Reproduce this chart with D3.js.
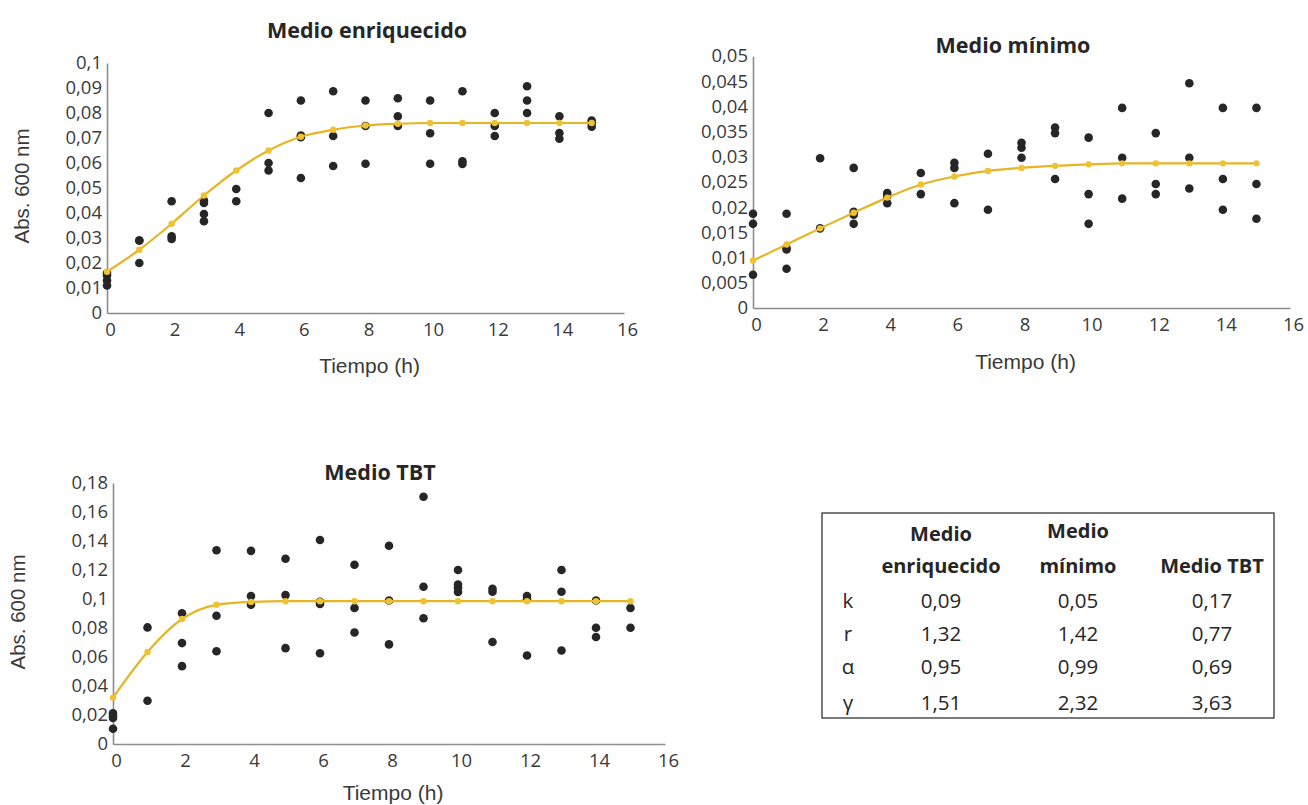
<!DOCTYPE html>
<html>
<head>
<meta charset="utf-8">
<script src="https://cdn.jsdelivr.net/npm/d3@7"></script>
<style>
  body { margin: 0; background: #fff; }
  svg { display: block; }
</style>
</head>
<body>
<div id="chart"></div>
<script>
// ---- data ----
var hours = [0, 1, 2, 3, 4, 5, 6, 7, 8, 9, 10, 11, 12, 13, 14, 15];

// replicates per hour
var enrObs = [
  [0.016, 0.015, 0.013, 0.011],
  [0.029, 0.029, 0.020],
  [0.0447, 0.0307, 0.0296],
  [0.045, 0.044, 0.0396, 0.0367],
  [0.0496, 0.0447],
  [0.080, 0.060, 0.057],
  [0.085, 0.071, 0.0703, 0.054],
  [0.0887, 0.0708, 0.0588],
  [0.085, 0.0748, 0.0597],
  [0.0859, 0.0787, 0.0748],
  [0.085, 0.0719, 0.0597],
  [0.0887, 0.0607, 0.0596],
  [0.080, 0.0748, 0.0708],
  [0.0907, 0.085, 0.080],
  [0.0787, 0.072, 0.0697],
  [0.077, 0.0759, 0.0745]
];
var enrFit = [0.0165, 0.0253, 0.0357, 0.047, 0.057, 0.065, 0.0705, 0.0733, 0.075, 0.0757, 0.076, 0.076, 0.076, 0.076, 0.076, 0.076];

var minObs = [
  [0.0187, 0.0167, 0.0066],
  [0.0187, 0.0119, 0.0116, 0.0078],
  [0.0297, 0.0158],
  [0.0278, 0.0191, 0.0185, 0.0167],
  [0.0228, 0.0222, 0.0208],
  [0.0268, 0.0226],
  [0.0288, 0.0278, 0.0208],
  [0.0306, 0.0195],
  [0.0328, 0.0318, 0.0298],
  [0.0358, 0.0347, 0.0256],
  [0.0338, 0.0226, 0.0167],
  [0.0397, 0.0298, 0.0217],
  [0.0347, 0.0246, 0.0226],
  [0.0446, 0.0298, 0.0237],
  [0.0397, 0.0256, 0.0195],
  [0.0397, 0.0246, 0.0177]
];
var minFit = [0.0094, 0.0126, 0.0158, 0.0189, 0.0219, 0.0245, 0.0261, 0.0272, 0.0278, 0.0282, 0.0285, 0.0287, 0.0287, 0.0287, 0.0287, 0.0287];

var tbtObs = [
  [0.0211, 0.0195, 0.018, 0.0105],
  [0.0804, 0.0298],
  [0.0902, 0.0696, 0.0537],
  [0.1336, 0.0884, 0.064],
  [0.1332, 0.102, 0.096],
  [0.1278, 0.1027, 0.0661],
  [0.1407, 0.098, 0.0966, 0.0626],
  [0.1236, 0.0938, 0.0769],
  [0.1367, 0.099, 0.0687],
  [0.1705, 0.1085, 0.0867],
  [0.12, 0.11, 0.1078, 0.1048],
  [0.1071, 0.105, 0.0703],
  [0.102, 0.0996, 0.061],
  [0.12, 0.105, 0.0645],
  [0.099, 0.0802, 0.0738],
  [0.0938, 0.0802]
];
var tbtFit = [0.032, 0.0635, 0.0862, 0.096, 0.098, 0.0985, 0.0985, 0.0985, 0.0985, 0.0985, 0.0985, 0.0985, 0.0985, 0.0985, 0.0985, 0.0985];

var xTicks = [0, 2, 4, 6, 8, 10, 12, 14, 16];
var enrTicks = [0, 0.01, 0.02, 0.03, 0.04, 0.05, 0.06, 0.07, 0.08, 0.09, 0.1];
var minTicks = [0, 0.005, 0.01, 0.015, 0.02, 0.025, 0.03, 0.035, 0.04, 0.045, 0.05];
var tbtTicks = [0, 0.02, 0.04, 0.06, 0.08, 0.1, 0.12, 0.14, 0.16, 0.18];

// table
var tblCols = [["Medio", "enriquecido"], ["Medio", "mínimo"], ["Medio TBT"]];
var tblRows = ["k", "r", "α", "γ"];
var tblVals = [
  ["0,09", "0,05", "0,17"],
  ["1,32", "1,42", "0,77"],
  ["0,95", "0,99", "0,69"],
  ["1,51", "2,32", "3,63"]
];

var W = 1308, H = 805;
var SANS = '"Open Sans", Lato, sans-serif';
var ARIAL = '"Liberation Sans", Arial, sans-serif';
var svg = d3.select("#chart").append("svg").attr("width", W).attr("height", H);

var fmt = function(d) { return String(d).replace(".", ","); };

function drawPanel(o) {
  var x = d3.scaleLinear().domain([0, 16]).range([o.x0, o.x1]);
  var y = d3.scaleLinear().domain([0, o.ymax]).range([o.y0, o.y1]);
  var g = svg.append("g");

  var xa = g.append("g").attr("transform", "translate(0," + o.y0 + ")")
    .call(d3.axisBottom(x).tickValues(xTicks).tickSize(0).tickPadding(10).tickFormat(fmt));
  var ya = g.append("g").attr("transform", "translate(" + o.x0 + ",0)")
    .call(d3.axisLeft(y).tickValues(o.ticks).tickSize(0).tickPadding(5).tickFormat(fmt));
  [xa, ya].forEach(function(a) {
    a.select(".domain").attr("stroke", "#8c8c8c").attr("stroke-width", 1.6);
    a.selectAll(".tick text")
      .style("font-family", SANS).style("font-size", "18.5px").attr("fill", "#3a3a3a");
  });
  xa.selectAll(".tick text").attr("dx", 3);

  // observed replicates
  var pts = [];
  o.obs.forEach(function(arr, i) {
    arr.forEach(function(v) { pts.push([hours[i], v]); });
  });
  g.append("g").selectAll("circle").data(pts).enter().append("circle")
    .attr("cx", function(d) { return x(d[0]); })
    .attr("cy", function(d) { return y(d[1]); })
    .attr("r", 4.3)
    .attr("fill", "#262626");

  // fitted curve
  var line = d3.line().curve(d3.curveMonotoneX)
    .x(function(d, i) { return x(hours[i]); })
    .y(function(d) { return y(d); });
  g.append("path").datum(o.fit)
    .attr("d", line)
    .attr("fill", "none")
    .attr("stroke", "#e6b523")
    .attr("stroke-width", 2.2);
  g.append("g").selectAll("circle").data(o.fit).enter().append("circle")
    .attr("cx", function(d, i) { return x(hours[i]); })
    .attr("cy", function(d) { return y(d); })
    .attr("r", 3.2)
    .attr("fill", "#f0c232");

  g.append("text").attr("x", o.tx).attr("y", o.ty)
    .attr("text-anchor", "middle")
    .style("font-family", SANS).style("font-weight", "bold").style("font-size", "21.5px")
    .attr("fill", "#262626").text(o.title);
  g.append("text").attr("x", (o.x0 + o.x1) / 2 + 4).attr("y", o.y0 + o.tdy)
    .attr("text-anchor", "middle")
    .style("font-family", ARIAL).style("font-size", "21px").attr("fill", "#3a3a3a")
    .text("Tiempo (h)");
  if (o.ylab) {
    g.append("text")
      .attr("transform", "translate(" + o.ylx + "," + o.yly + ") rotate(-90)")
      .attr("text-anchor", "middle")
      .style("font-family", ARIAL).style("font-size", "20.5px").attr("fill", "#3a3a3a")
      .text("Abs. 600 nm");
  }
}

drawPanel({ x0: 107, x1: 624, y0: 313, y1: 63, ymax: 0.1, ticks: enrTicks,
  obs: enrObs, fit: enrFit, title: "Medio enriquecido", tx: 367, ty: 38,
  tdy: 60, ylab: true, ylx: 29, yly: 186 });
drawPanel({ x0: 753, x1: 1290, y0: 308, y1: 56, ymax: 0.05, ticks: minTicks,
  obs: minObs, fit: minFit, title: "Medio mínimo", tx: 1013, ty: 53,
  tdy: 61, ylab: false });
drawPanel({ x0: 113, x1: 665, y0: 744, y1: 483, ymax: 0.18, ticks: tbtTicks,
  obs: tbtObs, fit: tbtFit, title: "Medio TBT", tx: 380, ty: 480,
  tdy: 56, ylab: true, ylx: 25, yly: 612 });

// ---- parameter table ----
var tg = svg.append("g");
tg.append("rect").attr("x", 822).attr("y", 513).attr("width", 452).attr("height", 205)
  .attr("fill", "#fff").attr("stroke", "#333").attr("stroke-width", 1.3);

var colX = [941, 1078, 1212];
var rowY = [608, 641, 674, 710];

tblCols.forEach(function(c, j) {
  var t = tg.append("text").attr("text-anchor", "middle")
    .style("font-family", SANS).style("font-weight", "bold").style("font-size", "20px")
    .attr("fill", "#262626");
  if (c.length === 2) {
    t.append("tspan").attr("x", colX[j]).attr("y", j === 1 ? 538 : 541).text(c[0]);
    t.append("tspan").attr("x", colX[j]).attr("y", 573).text(c[1]);
  } else {
    t.append("tspan").attr("x", colX[j]).attr("y", 573).text(c[0]);
  }
});
tblRows.forEach(function(r, i) {
  tg.append("text").attr("x", 848).attr("y", rowY[i])
    .attr("text-anchor", "middle")
    .style("font-family", SANS).style("font-size", "20.5px").attr("fill", "#262626")
    .text(r);
  tblVals[i].forEach(function(v, j) {
    tg.append("text").attr("x", colX[j]).attr("y", rowY[i])
      .attr("text-anchor", "middle")
      .style("font-family", SANS).style("font-size", "20.5px").attr("fill", "#262626")
      .text(v);
  });
});
</script>
</body>
</html>
